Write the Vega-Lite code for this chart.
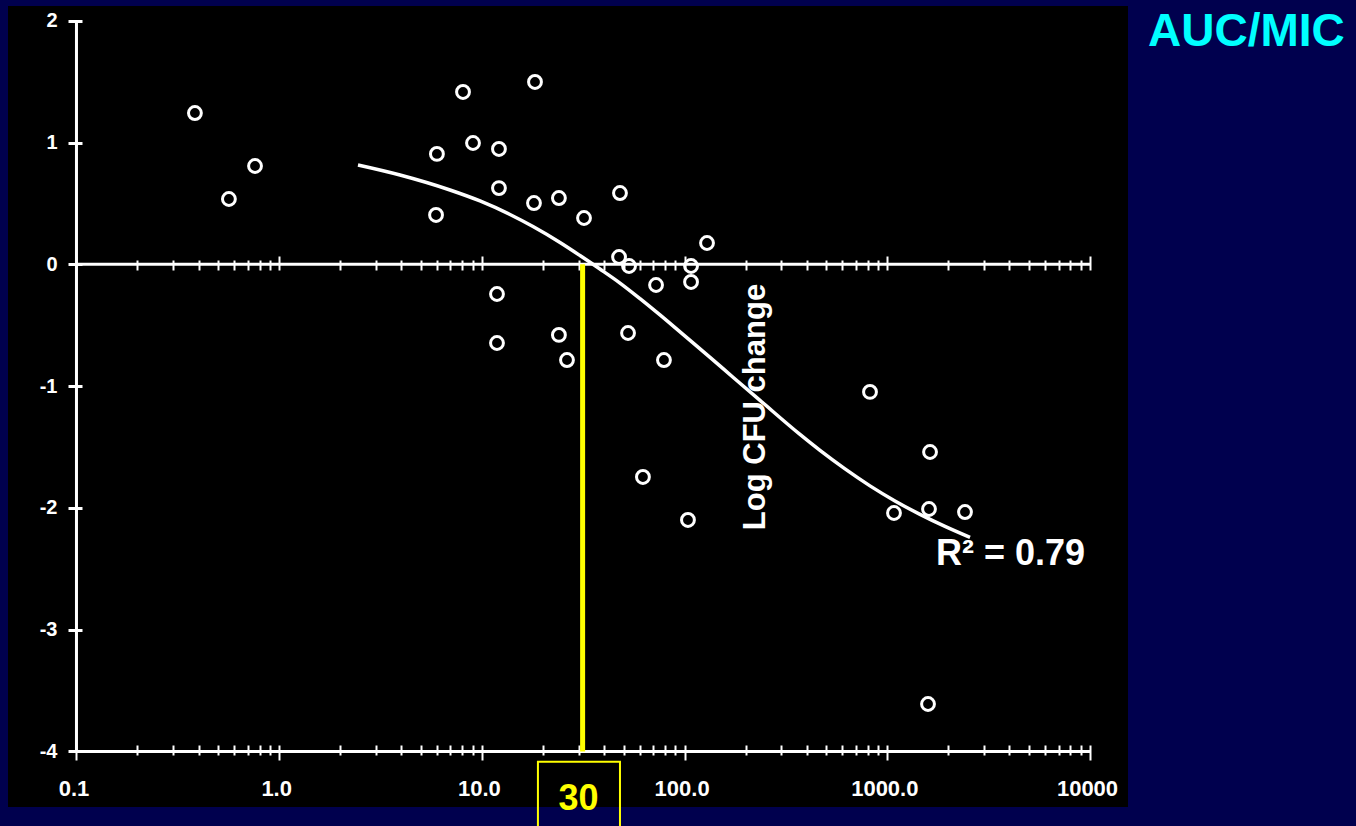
{
  "$schema": "https://vega.github.io/schema/vega-lite/v6.json",
  "width": 1120,
  "height": 801,
  "autosize": {"type": "none"},
  "padding": {"left": 8, "top": 6, "right": 228, "bottom": 19},
  "background": "#00004e",
  "config": {
    "view": {"fill": "black", "stroke": null},
    "font": "Liberation Sans"
  },
  "datasets": {
    "points": [
      {"x": 0.384, "y": 1.242}, {"x": 0.565, "y": 0.536}, {"x": 0.76, "y": 0.807},
      {"x": 8.07, "y": 1.415}, {"x": 18.28, "y": 1.497}, {"x": 6.0, "y": 0.906},
      {"x": 9.04, "y": 0.996}, {"x": 12.14, "y": 0.947}, {"x": 5.94, "y": 0.405},
      {"x": 12.14, "y": 0.626}, {"x": 18.07, "y": 0.503}, {"x": 23.99, "y": 0.544},
      {"x": 31.9, "y": 0.38}, {"x": 48.0, "y": 0.585}, {"x": 47.5, "y": 0.06},
      {"x": 53.2, "y": -0.014}, {"x": 129.0, "y": 0.175}, {"x": 107.6, "y": -0.014},
      {"x": 107.6, "y": -0.145}, {"x": 72.3, "y": -0.17}, {"x": 11.87, "y": -0.244},
      {"x": 11.87, "y": -0.646}, {"x": 23.99, "y": -0.58}, {"x": 26.29, "y": -0.786},
      {"x": 52.6, "y": -0.564}, {"x": 79.1, "y": -0.786}, {"x": 62.3, "y": -1.746},
      {"x": 103.9, "y": -2.099}, {"x": 821.6, "y": -1.048}, {"x": 1625, "y": -1.541},
      {"x": 1079, "y": -2.042}, {"x": 1606, "y": -2.009}, {"x": 2417, "y": -2.034},
      {"x": 1588, "y": -3.61}
    ],
    "curve": [
      {"x": 2.448, "y": 0.815}, {"x": 3.945, "y": 0.733}, {"x": 6.961, "y": 0.61},
      {"x": 9.786, "y": 0.52}, {"x": 13.76, "y": 0.409}, {"x": 17.87, "y": 0.31},
      {"x": 24.29, "y": 0.179}, {"x": 30.48, "y": 0.072}, {"x": 38.24, "y": -0.039},
      {"x": 48.01, "y": -0.154}, {"x": 60.26, "y": -0.282}, {"x": 75.61, "y": -0.416},
      {"x": 98.2, "y": -0.576}, {"x": 133.5, "y": -0.764}, {"x": 173.3, "y": -0.927},
      {"x": 235.5, "y": -1.117}, {"x": 370.9, "y": -1.397}, {"x": 465.6, "y": -1.528},
      {"x": 618.6, "y": -1.68}, {"x": 821.6, "y": -1.819}, {"x": 1091, "y": -1.943},
      {"x": 1450, "y": -2.053}, {"x": 1926, "y": -2.152}, {"x": 2559, "y": -2.242}
    ],
    "one": [{}]
  },
  "resolve": {"axis": {"x": "independent"}},
  "layer": [
    {
      "data": {"name": "points"},
      "mark": {"type": "point", "shape": "circle", "filled": false, "color": "white", "strokeWidth": 3, "size": 165, "opacity": 1},
      "encoding": {
        "x": {
          "field": "x", "type": "quantitative",
          "scale": {"type": "log", "domain": [0.04594, 15397], "nice": false},
          "axis": {
            "orient": "bottom", "offset": -62, "title": null, "domain": false, "grid": false,
            "values": [0.1, 0.2, 0.3, 0.4, 0.5, 0.6, 0.7, 0.8, 0.9, 1, 2, 3, 4, 5, 6, 7, 8, 9, 10, 20, 30, 40, 50, 60, 70, 80, 90, 100, 200, 300, 400, 500, 600, 700, 800, 900, 1000, 2000, 3000, 4000, 5000, 6000, 7000, 8000, 9000, 10000],
            "labelExpr": "datum.value == 0.1 ? '0.1' : datum.value == 1 ? '1.0' : datum.value == 10 ? '10.0' : datum.value == 100 ? '100.0' : datum.value == 1000 ? '1000.0' : datum.value == 10000 ? '10000' : ''",
            "labelOverlap": false, "labelFlush": false, "labelBound": false,
            "tickColor": "white", "tickWidth": 2,
            "tickSize": {"condition": {"test": "indexof([0.1, 1, 10, 100, 1000, 10000], datum.value) >= 0", "value": 15}, "value": 10},
            "labelColor": "white", "labelFontSize": 22, "labelFontWeight": "bold", "labelFont": "Liberation Sans",
            "labelPadding": 18, "labelOffset": -3
          }
        },
        "y": {
          "field": "y", "type": "quantitative",
          "scale": {"domain": [-4.4557, 2.1207], "nice": false, "zero": false},
          "axis": {
            "orient": "left", "offset": -74, "title": null, "domain": false, "grid": false,
            "values": [-4, -3, -2, -1, 0, 1, 2],
            "labelExpr": "'' + datum.value",
            "tickColor": "white", "tickWidth": 3, "tickSize": 14,
            "labelColor": "white", "labelFontSize": 20, "labelFontWeight": "bold", "labelFont": "Liberation Sans",
            "labelPadding": 11
          }
        }
      }
    },
    {
      "data": {"name": "curve"},
      "mark": {"type": "line", "color": "white", "strokeWidth": 3.5, "interpolate": "monotone"},
      "encoding": {
        "x": {
          "field": "x", "type": "quantitative",
          "scale": {"type": "log", "domain": [0.04594, 15397], "nice": false},
          "axis": {
            "orient": "top", "offset": -264, "title": null, "domain": false, "grid": false, "labels": false,
            "values": [0.1, 0.2, 0.3, 0.4, 0.5, 0.6, 0.7, 0.8, 0.9, 1, 2, 3, 4, 5, 6, 7, 8, 9, 10, 20, 30, 40, 50, 60, 70, 80, 90, 100, 200, 300, 400, 500, 600, 700, 800, 900, 1000, 2000, 3000, 4000, 5000, 6000, 7000, 8000, 9000, 10000],
            "tickColor": "white", "tickWidth": 2,
            "tickSize": {"condition": {"test": "indexof([0.1, 1, 10, 100, 1000, 10000], datum.value) >= 0", "value": 14}, "value": 10}
          }
        },
        "y": {"field": "y", "type": "quantitative", "scale": {"domain": [-4.4557, 2.1207], "nice": false, "zero": false}}
      }
    },
    {
      "data": {"name": "one"},
      "mark": {"type": "rule", "color": "white", "strokeWidth": 3},
      "encoding": {
        "x": {"datum": 0.1, "type": "quantitative", "axis": null},
        "y": {"datum": -4, "type": "quantitative"},
        "y2": {"datum": 2}
      }
    },
    {
      "data": {"name": "one"},
      "mark": {"type": "rule", "color": "white", "strokeWidth": 3},
      "encoding": {
        "x": {"datum": 0.1, "type": "quantitative", "axis": null},
        "x2": {"datum": 10000},
        "y": {"datum": -4, "type": "quantitative"}
      }
    },
    {
      "data": {"name": "one"},
      "mark": {"type": "rule", "color": "white", "strokeWidth": 3},
      "encoding": {
        "x": {"datum": 0.1, "type": "quantitative", "axis": null},
        "x2": {"datum": 10000},
        "y": {"datum": 0, "type": "quantitative"}
      }
    },
    {
      "data": {"name": "one"},
      "mark": {"type": "rule", "color": "#ffff00", "strokeWidth": 5},
      "encoding": {
        "x": {"datum": 31.4, "type": "quantitative", "axis": null},
        "y": {"datum": 0, "type": "quantitative"},
        "y2": {"datum": -4}
      }
    },
    {
      "data": {"name": "one"},
      "mark": {"type": "rect", "stroke": "#ffff00", "strokeWidth": 2, "fillOpacity": 0, "fill": "black"},
      "encoding": {
        "x": {"datum": 18.9, "type": "quantitative", "axis": null},
        "x2": {"datum": 48.0},
        "y": {"datum": -4.085, "type": "quantitative"},
        "y2": {"datum": -4.75}
      }
    },
    {
      "data": {"name": "one"},
      "mark": {"type": "text", "text": "30", "color": "#ffff00", "fontSize": 36, "fontWeight": "bold", "font": "Liberation Sans", "align": "center", "baseline": "alphabetic"},
      "encoding": {
        "x": {"datum": 30, "type": "quantitative", "axis": null},
        "y": {"datum": -4.48, "type": "quantitative"}
      }
    },
    {
      "data": {"name": "one"},
      "mark": {"type": "text", "text": "Log CFU change", "color": "white", "fontSize": 31, "fontWeight": "bold", "font": "Liberation Sans", "align": "center", "baseline": "alphabetic", "angle": 270},
      "encoding": {
        "x": {"datum": 249.3, "type": "quantitative", "axis": null},
        "y": {"datum": -1.1716, "type": "quantitative"}
      }
    },
    {
      "data": {"name": "one"},
      "mark": {"type": "text", "text": "R² = 0.79", "color": "white", "fontSize": 36, "fontWeight": "bold", "font": "Liberation Sans", "align": "left", "baseline": "alphabetic"},
      "encoding": {
        "x": {"datum": 1738, "type": "quantitative", "axis": null},
        "y": {"datum": -2.469, "type": "quantitative"}
      }
    },
    {
      "data": {"name": "one"},
      "mark": {"type": "text", "text": "AUC/MIC", "color": "#00ffff", "fontSize": 46, "fontWeight": "bold", "font": "Liberation Sans", "align": "left", "baseline": "alphabetic"},
      "encoding": {
        "x": {"datum": 19330, "type": "quantitative", "axis": null},
        "y": {"datum": 1.792, "type": "quantitative"}
      }
    }
  ]
}
